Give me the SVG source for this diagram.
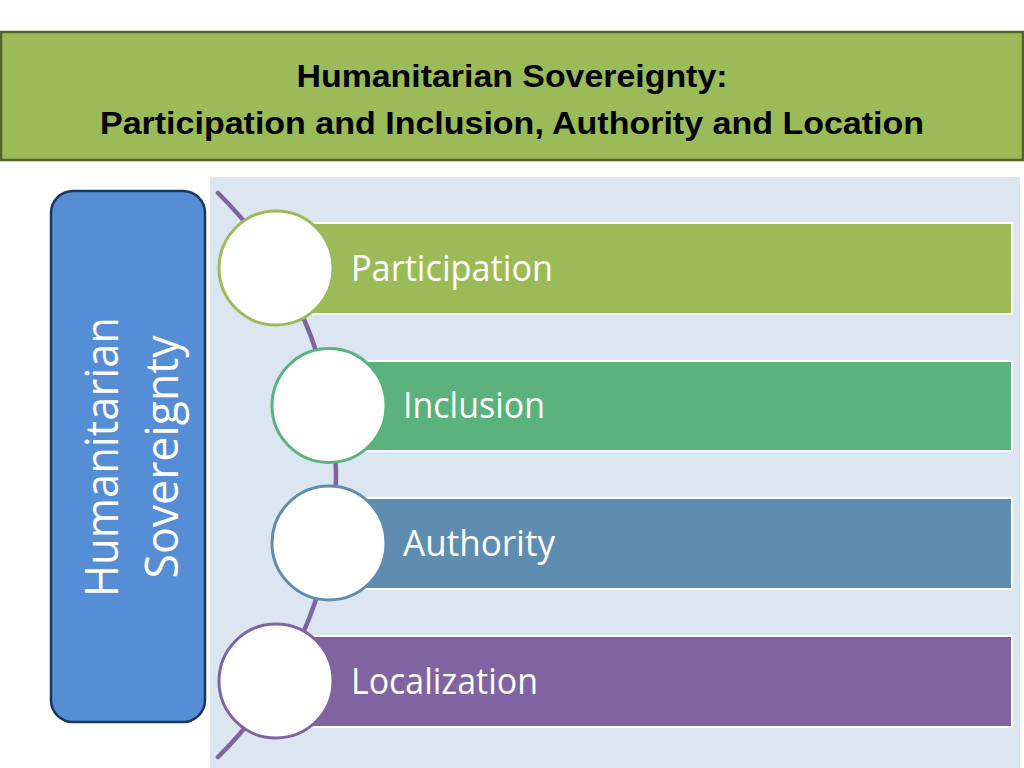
<svg xmlns="http://www.w3.org/2000/svg" width="1024" height="768" viewBox="0 0 1024 768">
<style>
.title{font-family:"Liberation Sans",Arial,sans-serif;font-weight:bold;font-size:32px;fill:#000;text-anchor:middle}
.side{font-family:"Open Sans","Noto Sans",sans-serif;font-size:46px;fill:#fff;text-anchor:middle}
.lbl{font-family:"Open Sans","Noto Sans",sans-serif;font-size:36px;fill:#fff}
.bar{stroke:#fff;stroke-width:2}
.ring{fill:#fff;stroke-width:3}
</style>
<rect x="0" y="0" width="1024" height="768" fill="#fff"/>
<g id="title">
<rect x="1" y="32" width="1022" height="128" fill="#9BBB59" stroke="#4F6228" stroke-width="2.5"/>
<text class="title" x="512" y="87" textLength="431" lengthAdjust="spacingAndGlyphs">Humanitarian Sovereignty:</text>
<text class="title" x="512" y="134" textLength="824" lengthAdjust="spacingAndGlyphs">Participation and Inclusion, Authority and Location</text>
</g>
<rect id="panel" x="210" y="177" width="810" height="591" fill="#DCE6F1"/>
<g id="side">
<rect x="51" y="191" width="154" height="531" rx="22" fill="#558ED5" stroke="#17375E" stroke-width="2.5"/>
<text class="side" transform="translate(118,457) rotate(-90)" x="0" y="0" textLength="280" lengthAdjust="spacingAndGlyphs">Humanitarian</text>
<text class="side" transform="translate(178,457) rotate(-90)" x="0" y="0" textLength="243" lengthAdjust="spacingAndGlyphs">Sovereignty</text>
</g>
<g id="connectors">
<path d="M218,193 A396,396 0 0 1 218,757" fill="none" stroke="#8064A2" stroke-width="4.5" stroke-linecap="round"/>
</g>
<g id="participation">
<rect class="bar" x="276" y="223" width="736" height="91" fill="#9BBB59"/>
<circle class="ring" cx="276" cy="268" r="57" stroke="#9BBB59"/>
<text class="lbl" x="351" y="281" textLength="202" lengthAdjust="spacingAndGlyphs">Participation</text>
</g>
<g id="inclusion">
<rect class="bar" x="329" y="361" width="683" height="90" fill="#5BB27C"/>
<circle class="ring" cx="329" cy="405.5" r="57" stroke="#5BB27C"/>
<text class="lbl" x="403" y="418" textLength="142" lengthAdjust="spacingAndGlyphs">Inclusion</text>
</g>
<g id="authority">
<rect class="bar" x="329" y="498" width="683" height="91" fill="#5F8DAF"/>
<circle class="ring" cx="329" cy="543" r="57" stroke="#5F8DAF"/>
<text class="lbl" x="403" y="556" textLength="152" lengthAdjust="spacingAndGlyphs">Authority</text>
</g>
<g id="localization">
<rect class="bar" x="276" y="636" width="736" height="91" fill="#8064A2"/>
<circle class="ring" cx="276" cy="681" r="57" stroke="#8064A2"/>
<text class="lbl" x="351" y="694" textLength="187" lengthAdjust="spacingAndGlyphs">Localization</text>
</g>
</svg>
